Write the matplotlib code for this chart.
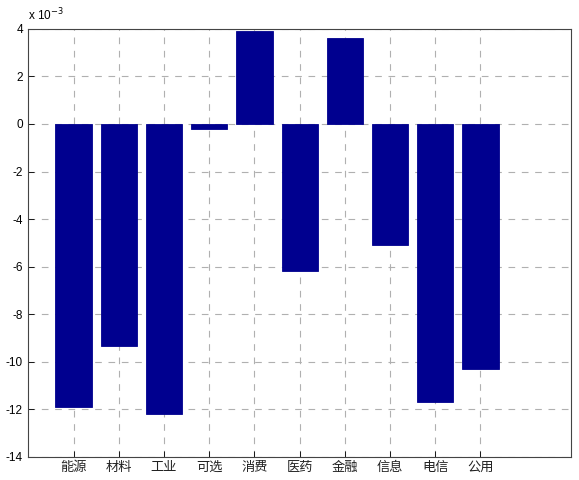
import numpy as np
import matplotlib
matplotlib.use("Agg")
import matplotlib.pyplot as plt

plt.rcParams['font.family'] = ['Noto Sans CJK SC', 'DejaVu Sans']

# 行业名称与数值 (x 10^-3)
sectors = ['能源', '材料', '工业', '可选', '消费', '医药', '金融', '信息', '电信', '公用']
values = [-11.9, -9.35, -12.2, -0.2, 3.9, -6.2, 3.6, -5.1, -11.7, -10.3]
y_ticks = [4, 2, 0, -2, -4, -6, -8, -10, -12, -14]

fig = plt.figure(figsize=(5.79, 4.8), dpi=100)
ax = fig.add_axes([0.049, 0.048, 0.937, 0.892])

x = np.arange(1, len(sectors) + 1)
ax.bar(x, values, width=0.8, color='#00008F', edgecolor='#00008F', linewidth=0.6, zorder=3)

ax.set_xlim(0, 12)
ax.set_ylim(-14, 4)
ax.set_xticks(x)
ax.set_xticklabels(sectors, fontsize=9.5, color='#222222')
ax.set_yticks(y_ticks)
ax.set_yticklabels([str(v) for v in y_ticks], fontsize=8.5, family=['Liberation Sans', 'DejaVu Sans'])

ax.grid(True, linestyle=(0, (6, 6)), color='#b0b0b0', linewidth=0.8, zorder=0)
ax.tick_params(direction='in', length=4, width=0.6, pad=4)
ax.tick_params(axis='x', pad=3)
for s in ax.spines.values():
    s.set_linewidth(0.8)
    s.set_color('#444444')

ax.text(0.0, 1.012, r'x 10$^{-3}$', transform=ax.transAxes, fontsize=8.5,
        family=['Liberation Sans', 'DejaVu Sans'], va='bottom', ha='left')

fig.savefig('out.png', dpi=100)
